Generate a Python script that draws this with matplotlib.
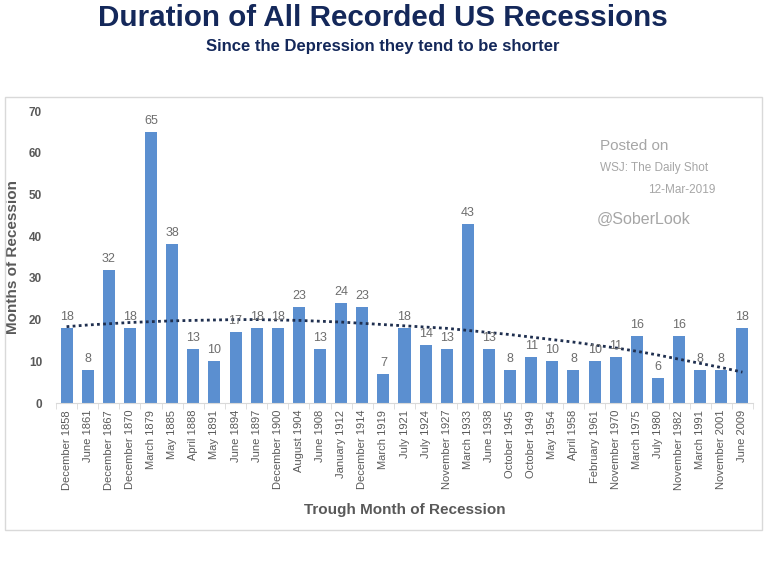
import numpy as np
import matplotlib
matplotlib.use('Agg')
import matplotlib.pyplot as plt
from matplotlib.patches import Rectangle

# trough month of each recession and its duration in months
troughs = ['December 1858', 'June 1861', 'December 1867', 'December 1870', 'March 1879',
           'May 1885', 'April 1888', 'May 1891', 'June 1894', 'June 1897', 'December 1900',
           'August 1904', 'June 1908', 'January 1912', 'December 1914', 'March 1919',
           'July 1921', 'July 1924', 'November 1927', 'March 1933', 'June 1938',
           'October 1945', 'October 1949', 'May 1954', 'April 1958', 'February 1961',
           'November 1970', 'March 1975', 'July 1980', 'November 1982', 'March 1991',
           'November 2001', 'June 2009']
months = [18, 8, 32, 18, 65, 38, 13, 10, 17, 18, 18, 23, 13, 24, 23, 7, 18, 14, 13, 43,
          13, 8, 11, 10, 8, 10, 11, 16, 6, 16, 8, 8, 18]
# dotted trendline at each category
trend = [18.3, 18.7, 19.0, 19.3, 19.5, 19.7, 19.8, 19.9, 20.0, 20.0, 19.9, 19.8, 19.6,
         19.4, 19.1, 18.8, 18.5, 18.2, 17.9, 17.4, 16.9, 16.4, 15.8, 15.2, 14.6, 13.9,
         13.2, 12.4, 11.5, 10.5, 9.5, 8.5, 7.4]

plt.rcParams['font.family'] = ['Liberation Sans', 'DejaVu Sans']

fig = plt.figure(figsize=(7.65, 5.73), dpi=100)

# light panel frame like the pasted Excel chart
fig.patches.append(Rectangle((5 / 765, 1 - 530 / 573), 757 / 765, 433 / 573,
                             transform=fig.transFigure, fill=False,
                             edgecolor='#d9d9d9', linewidth=1))

fig.text(0.5, 1 - 18 / 573, 'Duration of All Recorded US Recessions', ha='center', va='center',
         fontsize=21.3, fontweight='bold', color='#14285a')
fig.text(0.5, 1 - 46 / 573, 'Since the Depression they tend to be shorter', ha='center', va='center',
         fontsize=12, fontweight='bold', color='#14285a')

ax = fig.add_axes([56 / 765, 1 - 403 / 573, 697 / 765, 292 / 573])
x = np.arange(len(months))
ax.bar(x, months, width=0.57, color='#5b8fd0')

for xi, v in zip(x, months):
    ax.text(xi, v + 1.2, str(v), ha='center', va='bottom', fontsize=9, color='#6d6d6d')

ax.plot(x, trend, linestyle=(0, (1, 1.2)), color='#1f2f4f', linewidth=2)

ax.set_xlim(-0.5, len(months) - 0.5)
ax.set_ylim(0, 70)
ax.set_yticks(range(0, 71, 10))
ax.set_xticks(x)
ax.set_xticklabels(troughs, rotation=90, fontsize=8, color='#595959')
ax.set_xticks(np.arange(-0.5, len(months), 1), minor=True)
ax.tick_params(axis='x', which='major', length=0, pad=5)
ax.tick_params(axis='x', which='minor', length=4, color='#d9d9d9')
ax.tick_params(axis='y', length=0, pad=10)
for lab in ax.get_yticklabels():
    lab.set_fontweight('bold')
    lab.set_color('#595959')
    lab.set_fontsize(8.5)

for s in ['top', 'right', 'left']:
    ax.spines[s].set_visible(False)
ax.spines['bottom'].set_color('#d9d9d9')

ax.set_ylabel('Months of Recession', fontsize=11, fontweight='bold', color='#595959')
ax.yaxis.set_label_coords(-36 / 697, 0.5)
ax.set_xlabel('Trough Month of Recession', fontsize=11, fontweight='bold', color='#595959', labelpad=10)

fig.text(600 / 765, 1 - 146 / 573, 'Posted on', fontsize=11, color='#a6a6a6', va='center')
fig.text(600 / 765, 1 - 168 / 573, 'WSJ: The Daily Shot', fontsize=8.5, color='#a6a6a6', va='center')
fig.text(715 / 765, 1 - 190 / 573, '12-Mar-2019', fontsize=8.5, color='#a6a6a6', va='center', ha='right')
fig.text(597 / 765, 1 - 219 / 573, '@SoberLook', fontsize=11.5, color='#a6a6a6', va='center')

fig.savefig('out.png', dpi=100)
